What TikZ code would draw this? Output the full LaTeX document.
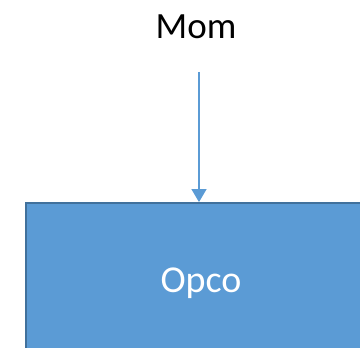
\documentclass[tikz,border=0pt]{standalone}
\usepackage{fontspec}
\setmainfont{Carlito}
\usetikzlibrary{arrows.meta}
\definecolor{officeblue}{HTML}{5B9BD5}
\definecolor{officeedge}{HTML}{41719C}

\begin{document}
\begin{tikzpicture}[x=1pt, y=-1pt,
		boxstyle/.style={draw=officeedge, line width=1.8pt, fill=officeblue, text=white, font=\fontsize{38}{42}\selectfont, minimum width=350pt, minimum height=160pt, inner sep=0pt},
		labelstyle/.style={font=\fontsize{37}{42}\selectfont, inner sep=0pt},
		linkstyle/.style={draw=officeblue, line width=1.2pt, -{Triangle[width=15pt,length=13pt]}}]
		%%%%% START %%%%%
		
		\useasboundingbox (0, 0) rectangle (360, 348);
		\clip (0, 0) rectangle (360, 348);
		
		\node[labelstyle] (mom) at (196, 27) {Mom};
		\node[boxstyle] (opco) at (201, 283) {\raisebox{6pt}{Opco}};
		
		\coordinate (linktop) at (199, 72);
		\draw[linkstyle] (linktop) -- (linktop |- opco.north);
		
		%%%%% END %%%%%
	\end{tikzpicture}
\end{document}
